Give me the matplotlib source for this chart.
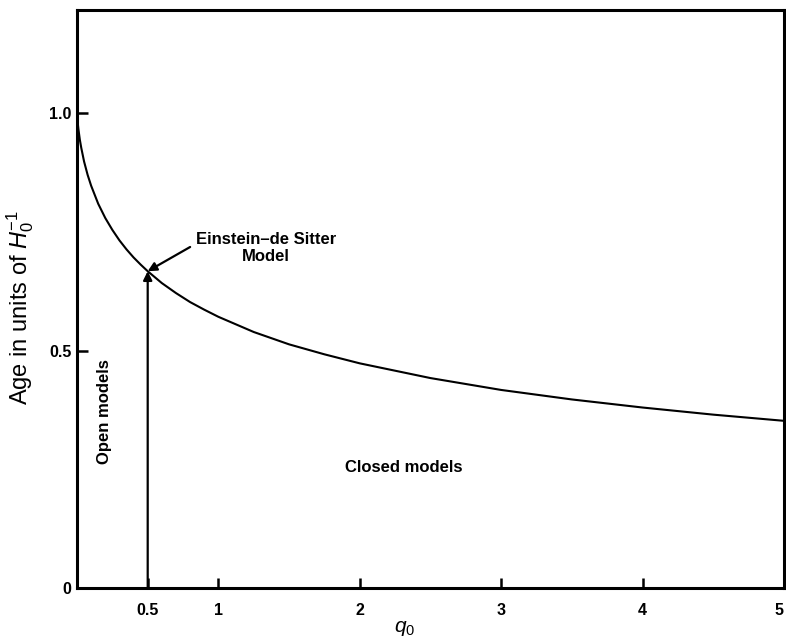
import matplotlib
matplotlib.use("Agg")
import matplotlib.pyplot as plt

plt.rcParams['font.family'] = ['Liberation Sans', 'DejaVu Sans']
plt.rcParams['mathtext.fontset'] = 'custom'
plt.rcParams['mathtext.it'] = 'Liberation Sans:italic'
plt.rcParams['mathtext.rm'] = 'Liberation Sans'

# Deceleration parameter and age of the universe (units of 1/H0)
q0 = [0.0, 0.005, 0.01, 0.02, 0.03, 0.05, 0.075, 0.1, 0.15, 0.2, 0.25,
      0.3, 0.35, 0.4, 0.45, 0.5, 0.6, 0.7, 0.8, 0.9, 1.0, 1.25, 1.5,
      1.75, 2.0, 2.5, 3.0, 3.5, 4.0, 4.5, 5.0]
age = [1.0, 0.980, 0.966, 0.944, 0.927, 0.898, 0.870, 0.847, 0.809, 0.779,
       0.754, 0.732, 0.713, 0.696, 0.681, 0.667, 0.642, 0.621, 0.602,
       0.586, 0.571, 0.539, 0.513, 0.492, 0.473, 0.442, 0.417, 0.397,
       0.380, 0.365, 0.352]

xticks = [0.5, 1, 2, 3, 4, 5]
xticklabels = ["0.5", "1", "2", "3", "4", "5"]
yticks = [0, 0.5, 1.0]
yticklabels = ["0", "0.5", "1.0"]

eds_q0 = 0.5
eds_age = 0.667

W, H = 786, 641
fig = plt.figure(figsize=(W / 100, H / 100), dpi=100)
ax = fig.add_axes([77 / W, 1 - 588 / H, 707 / W, 578 / H])

ax.plot(q0, age, color='black', lw=1.5, solid_capstyle='round',
        solid_joinstyle='round')

ax.set_xlim(0, 5)
ax.set_ylim(0, 1.217)

ax.set_xticks(xticks)
ax.set_xticklabels(xticklabels, fontweight='bold', fontsize=11.5)
ax.set_yticks(yticks)
ax.set_yticklabels(yticklabels, fontweight='bold', fontsize=11.5)
ax.tick_params(direction='in', width=1.8)
ax.tick_params(axis='x', length=7, pad=11)
ax.tick_params(axis='y', length=8, pad=4)
ax.get_xticklabels()[-1].set_ha('right')

for s in ax.spines.values():
    s.set_linewidth(2.2)

fig.text(20 / W, 1 - 307 / H, r"Age in units of $H_0^{-1}$", rotation=90,
         ha='center', va='center', fontsize=17)
fig.text(405 / W, 1 - 628 / H, r"$q_0$", ha='center', va='center',
         fontsize=15)

# Vertical arrow marking q0 = 1/2
ax.annotate("", xy=(eds_q0, eds_age), xytext=(eds_q0, 0),
            arrowprops=dict(arrowstyle='-|>', color='black', lw=1.6,
                            mutation_scale=13, shrinkA=0, shrinkB=0))

# Pointer to the Einstein-de Sitter model
ax.annotate("", xy=(eds_q0, eds_age), xytext=(0.80, 0.718),
            arrowprops=dict(arrowstyle='-|>', color='black', lw=1.6,
                            mutation_scale=13, shrinkA=0, shrinkB=0))
ax.text(1.337, 0.716, "Einstein\u2013de Sitter\nModel", ha='center',
        va='center', fontsize=12, fontweight='bold', linespacing=1.2)

ax.text(0.198, 0.371, "Open models", rotation=90, ha='center', va='center',
        fontsize=12, fontweight='bold')
ax.text(2.31, 0.253, "Closed models", ha='center', va='center',
        fontsize=12, fontweight='bold')

fig.savefig("out.png", dpi=100)
